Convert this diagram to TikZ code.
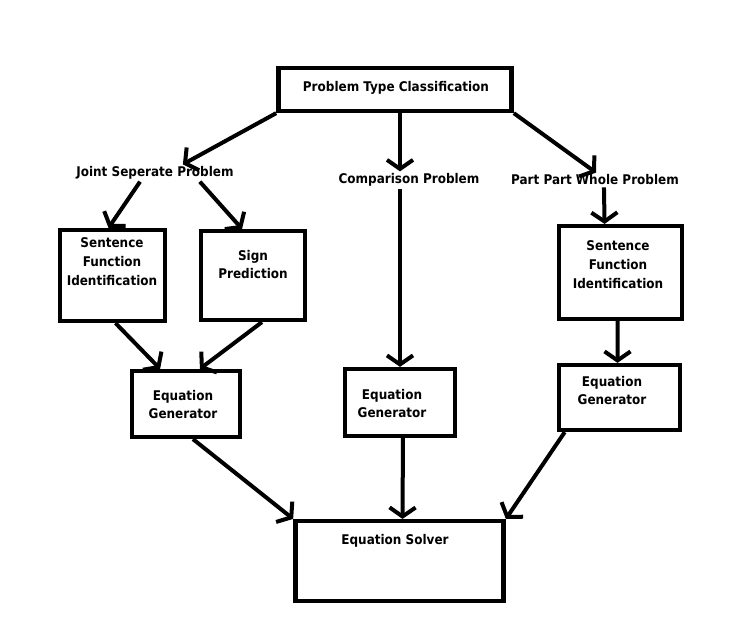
\documentclass[tikz,border=0pt]{standalone}
\usepackage{fontspec}
\setmainfont{DejaVu Sans Condensed}
\usetikzlibrary{arrows.meta}

\tikzset{
  box/.style={draw, rectangle, line width=4.5bp, inner sep=0pt},
  txt/.style={font=\bfseries\fontsize{13.4}{19}\selectfont, align=center, inner sep=2bp},
  arr/.style={line width=4bp, -{Straight Barb[length=9bp,width=26bp]}},
}

\begin{document}
\begin{tikzpicture}[x={(1bp,0)}, y={(0,-1bp)}]
  \useasboundingbox (0,0) rectangle (747,621);
  % boxes
  \node[box, minimum width=234, minimum height=43] (ptc) at (395,89.5) {};
  \node[box, minimum width=105, minimum height=91] (sfiA) at (112.5,275.5) {};
  \node[box, minimum width=104, minimum height=89] (sign) at (253,275.5) {};
  \node[box, minimum width=108, minimum height=66] (eqA) at (186,404) {};
  \node[box, minimum width=110, minimum height=67] (eqB) at (400,402.5) {};
  \node[box, minimum width=123, minimum height=93] (sfiB) at (620.5,272.5) {};
  \node[box, minimum width=121, minimum height=65] (eqC) at (619.5,397.5) {};
  \node[box, minimum width=209, minimum height=80] (solver) at (399.5,561) {};
  % texts in the boxes
  \node[txt] (ptc-t) at (396,88) {Problem Type Classification};
  \node[txt] (sfiA-t) at (112,262) {Sentence\\Function\\Identification};
  \node[txt] (sign-t) at (253,264.5) {Sign\\Prediction};
  \node[txt] (eqA-t) at (183,404.5) {Equation\\Generator};
  \node[txt] (eqB-t) at (392,403.5) {Equation\\Generator};
  \node[txt] (sfiB-t) at (618,265) {Sentence\\Function\\Identification};
  \node[txt] (eqC-t) at (612,390.5) {Equation\\Generator};
  \node[txt] (solver-t) at (395,541) {Equation Solver};
  % problem types
  \node[txt] (jsp) at (155,173) {Joint Seperate Problem};
  \node[txt] (cmp) at (409,180) {Comparison Problem};
  \node[txt] (ppw) at (595,180) {Part Part Whole Problem};
  % arrows
  \draw[arr] (ptc.south west) -- ([xshift=28]jsp.north);
  \draw[arr] (ptc.south -| eqB.center) -- (cmp.north -| eqB.center);
  \draw[arr] (ptc.south east) -- ([xshift=1]ppw.north);
  \draw[arr] ([xshift=-15]jsp.south) -- ([xshift=-4]sfiA.north);
  \draw[arr] ([xshift=45]jsp.south) -- ([xshift=-11]sign.north);
  \draw[arr] (cmp.south -| eqB.north) -- (eqB.north);
  \draw[arr] ([xshift=9]ppw.south) -- ([xshift=-16]sfiB.north);
  \draw[arr] ([xshift=3]sfiA.south) -- ([xshift=-26]eqA.north);
  \draw[arr] ([xshift=9]sign.south) -- ([xshift=14]eqA.north);
  \draw[arr] ([xshift=-3]sfiB.south) -- ([xshift=-2]eqC.north);
  \draw[arr] ([xshift=7]eqA.south) -- (solver.north west);
  \draw[arr] ([xshift=3]eqB.south) -- ([xshift=3]solver.north);
  \draw[arr] ([xshift=-55]eqC.south) -- (solver.north east);
\end{tikzpicture}
\end{document}
